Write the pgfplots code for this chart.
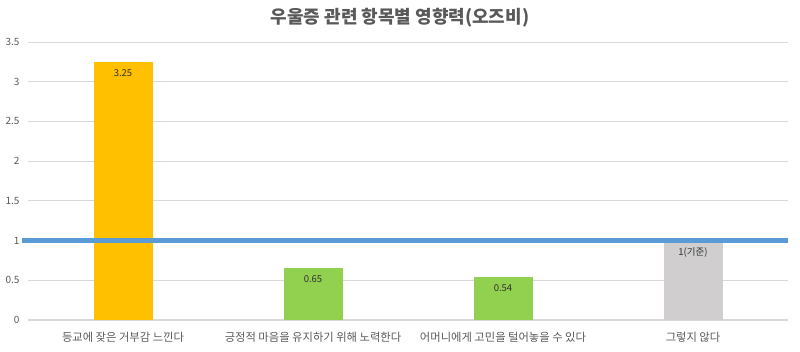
\documentclass[border=0pt]{standalone}
\usepackage{pgfplots}
\pgfplotsset{compat=1.18}
\usepackage{fontspec}
\setmainfont{Noto Sans CJK KR}
\definecolor{cgold}{HTML}{FFC000}
\definecolor{cgreen}{HTML}{92D050}
\definecolor{cgrey}{HTML}{D0CECE}
\definecolor{cblue}{HTML}{5B9BD5}
\definecolor{ctext}{HTML}{595959}
\definecolor{cgrid}{HTML}{D9D9D9}
\begin{document}
\begin{tikzpicture}[x=1pt,y=1pt]
\path[use as bounding box] (0,0) rectangle (800,352);
\node[font=\fontsize{18}{20}\selectfont\bfseries, text=ctext] at (400,334) {우울증 관련 항목별 영향력(오즈비)};
\begin{axis}[
  at={(28pt,32pt)}, anchor=south west,
  scale only axis, width=760pt, height=278pt,
  xmin=-0.5, xmax=3.5, ymin=0, ymax=3.5,
  clip=false,
  axis lines*=left,
  y axis line style={draw=none},
  x axis line style={draw=cgrid, line width=1.6pt, -},
  major tick length=0pt,
  ymajorgrids, grid style={cgrid, line width=0.8pt},
  ytick={0,0.5,1,1.5,2,2.5,3,3.5},
  yticklabels={0,0.5,1,1.5,2,2.5,3,3.5},
  xtick={0,1,2,3},
  xticklabels={등교에 잦은 거부감 느낀다, 긍정적 마음을 유지하기 위해 노력한다, 어머니에게 고민을 털어놓을 수 있다, 그렇지 않다},
  xticklabel style={font=\fontsize{11.3}{13}\selectfont, text=ctext, yshift=-9pt},
  yticklabel style={font=\fontsize{10}{12}\selectfont, text=ctext, xshift=-5pt},
  /pgf/number format/assume math mode=true,
  nodes near coords,
  point meta=explicit symbolic,
  nodes near coords style={anchor=north, yshift=-4pt, font=\fontsize{9.5}{11}\selectfont, text=black!80},
]
\addplot[ybar, bar width=59pt, fill=cgold, draw=none] coordinates {(0,3.25) [3.25]};
\addplot[ybar, bar width=59pt, fill=cgreen, draw=none] coordinates {(1,0.65) [0.65]};
\addplot[ybar, bar width=59pt, fill=cgreen, draw=none] coordinates {(2,0.54) [0.54]};
\addplot[ybar, bar width=59pt, fill=cgrey, draw=none] coordinates {(3,1) [1(기준)]};
\addplot[cblue, line width=4.5pt, no marks, nodes near coords={}] coordinates {(-0.53,1) (3.5,1)};
\end{axis}
\end{tikzpicture}
\end{document}
